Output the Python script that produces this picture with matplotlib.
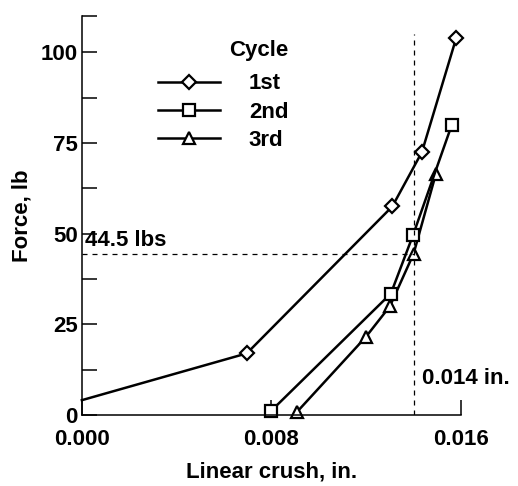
import matplotlib
matplotlib.use("Agg")

import matplotlib.pyplot as plt
from matplotlib.ticker import FixedLocator

plt.rcParams["font.family"] = ["Liberation Sans", "DejaVu Sans"]
plt.rcParams["font.weight"] = "bold"
plt.rcParams["axes.labelweight"] = "bold"

# crush (in.) vs force (lb) for three load cycles
x_1st = [0.0, 0.00696, 0.01310, 0.01435, 0.01580]
y_1st = [4.1, 17.0, 57.5, 72.5, 104.0]
x_2nd = [0.00798, 0.01304, 0.01397, 0.01561]
y_2nd = [1.1, 33.5, 49.5, 80.0]
x_3rd = [0.00907, 0.01198, 0.01300, 0.01400, 0.01494]
y_3rd = [0.8, 21.5, 30.0, 44.5, 66.5]
labels = ["1st", "2nd", "3rd"]

ref_force = 44.5
ref_crush = 0.014

fs = 16

fig = plt.figure(figsize=(5.18, 4.86), dpi=100)
ax = fig.add_axes([0.158, 0.146, 0.732, 0.821])

mk = dict(color="black", linewidth=1.8, markersize=8, markerfacecolor="white",
          markeredgecolor="black", markeredgewidth=1.6)
ax.plot(x_1st, y_1st, marker="D", label=labels[0], clip_on=False,
        markevery=list(range(1, len(x_1st))), **{**mk, "markersize": 7})
ax.plot(x_3rd, y_3rd, marker="^", label=labels[2], clip_on=False, **mk)
ax.plot(x_2nd, y_2nd, marker="s", label=labels[1], clip_on=False, **mk)

dash = dict(color="black", linewidth=0.9, linestyle=(0, (4, 4)))
ax.plot([0, ref_crush], [ref_force, ref_force], **dash)
ax.plot([ref_crush, ref_crush], [0, 105], **dash)
ax.text(0.00015, ref_force + 0.6, "44.5 lbs", fontsize=fs, ha="left", va="bottom")
ax.text(ref_crush + 0.00035, 10, "0.014 in.", fontsize=fs, ha="left", va="center")

ax.set_xlim(0, 0.016)
ax.set_ylim(0, 110)
ax.set_xticks([0.0, 0.008, 0.016])
ax.set_xticklabels(["0.000", "0.008", "0.016"])
ax.set_yticks([0, 25, 50, 75, 100])
ax.yaxis.set_minor_locator(FixedLocator([12.5, 37.5, 62.5, 87.5, 110]))
ax.tick_params(direction="in", length=11, width=1.1, labelsize=fs)
ax.tick_params(axis="x", pad=10)
ax.tick_params(axis="y", pad=3)
ax.tick_params(which="minor", direction="in", length=11, width=1.1)
for s in ["top", "right"]:
    ax.spines[s].set_visible(False)
for s in ["left", "bottom"]:
    ax.spines[s].set_linewidth(1.1)

ax.set_xlabel("Linear crush, in.", fontsize=fs, labelpad=8)
ax.set_ylabel("Force, lb", fontsize=fs, labelpad=6)

h, l = ax.get_legend_handles_labels()
order = [0, 2, 1]
leg = ax.legend([h[i] for i in order], [l[i] for i in order], title="Cycle",
                loc="upper left", bbox_to_anchor=(0.2, 0.94), frameon=False,
                fontsize=fs, title_fontsize=fs, handlelength=2.8, handletextpad=1.3,
                labelspacing=0.33, borderpad=0, borderaxespad=0, alignment="right")
leg.get_title().set_fontweight("bold")
leg._legend_box.sep = 9

fig.savefig("out.png", dpi=100)
